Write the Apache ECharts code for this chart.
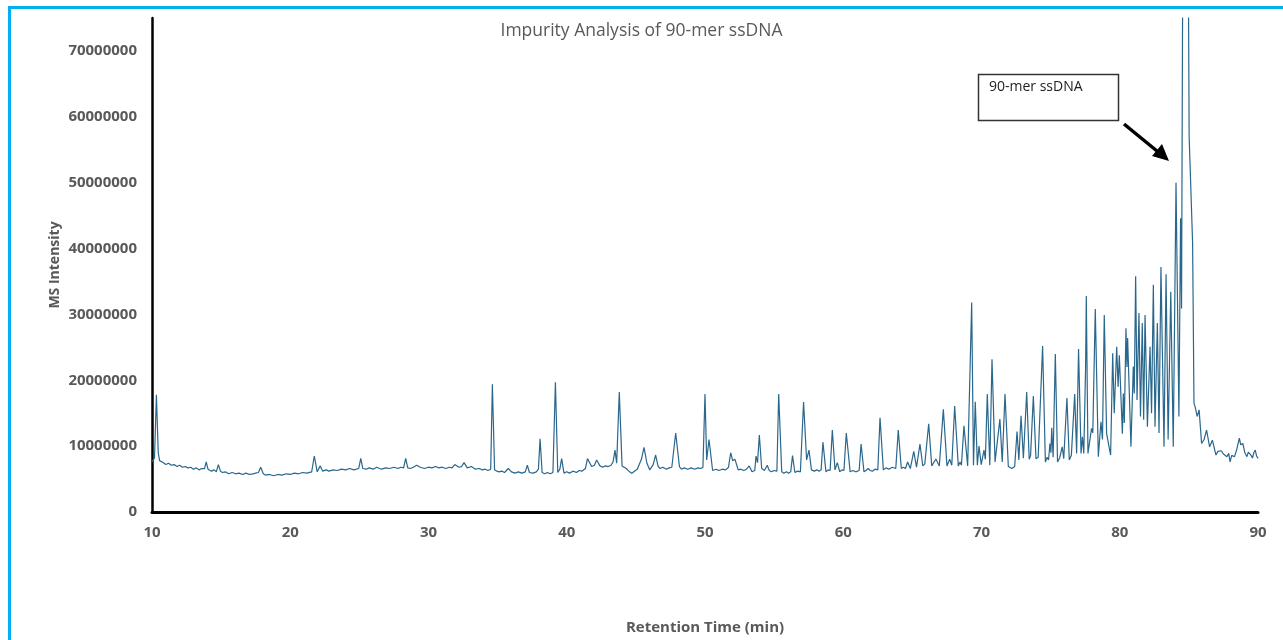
<!DOCTYPE html>
<html>
<head>
<meta charset="utf-8">
<script src="https://cdn.jsdelivr.net/npm/echarts@6/dist/echarts.min.js"></script>
<style>
html,body{margin:0;padding:0;background:#fff;}
#chart{width:1283px;height:640px;}
</style>
</head>
<body>
<div id="chart"></div>
<script>
// Retention time (min), intensity (millions)
const segEarly = [
 [10.0,7.6],[10.05,7.9],[10.18,8.2],[10.32,17.8],[10.45,9.0],[10.55,7.8],[10.8,7.5],[11.0,7.2],[11.2,7.4],[11.4,7.1],[11.6,7.2],[11.8,6.9],[12.0,7.1],
 [12.2,6.8],[12.4,6.9],[12.6,6.7],[12.8,6.8],[13.0,6.5],[13.2,6.7],[13.4,6.4],[13.6,6.6],[13.8,6.6],[13.92,7.6],[14.05,6.5],[14.3,6.2],[14.5,6.4],[14.65,6.1],[14.8,7.2],
 [14.95,6.2],[15.1,6.0],[15.3,6.1],[15.55,5.8],[15.8,6.0],[16.05,5.8],[16.3,5.9],[16.55,5.7],[16.8,5.9],[17.05,5.7],[17.3,5.8],[17.5,5.9],[17.7,6.0],[17.86,6.8],[18.05,5.8],[18.2,5.6],
 [18.5,5.7],[18.8,5.5],[19.1,5.7],[19.4,5.6],[19.7,5.8],[20.0,5.7],[20.3,5.9],[20.6,5.8],[20.9,6.0],[21.2,5.9],[21.55,6.1],[21.74,8.5],[21.95,6.1],[22.17,7.0],[22.35,6.2],
 [22.6,6.4],[22.8,6.2],[23.1,6.4],[23.4,6.3],[23.7,6.5],[24.0,6.4],[24.3,6.6],[24.6,6.4],[24.95,6.6],[25.1,8.15],[25.25,6.6],[25.5,6.5],[25.7,6.7],[26.0,6.5],[26.25,6.8],[26.6,6.5],
 [26.9,6.7],[27.2,6.6],[27.5,6.8],[27.8,6.6],[28.0,6.8],[28.2,6.7],[28.35,8.15],[28.5,6.7],[28.7,6.6],[28.9,6.8],[29.15,7.1],[29.4,6.8],[29.7,6.6],[30.0,6.8],[30.25,6.7],[30.5,6.9]
];
const segMid = [
 [30.75,6.7],[31.0,6.8],[31.25,6.6],[31.5,6.8],[31.7,6.7],[31.9,7.2],[32.2,6.8],[32.4,6.9],[32.57,7.5],[32.8,6.7],[33.1,6.9],[33.4,6.5],[33.65,6.6],[33.9,6.4],[34.1,6.5],[34.3,6.3],
 [34.5,6.5],[34.62,19.4],[34.78,6.4],[34.95,6.2],[35.1,6.1],[35.3,6.2],[35.5,6.0],[35.77,6.6],[36.0,6.1],[36.25,5.9],[36.5,6.1],[36.75,5.9],[37.0,6.1],[37.15,7.1],
 [37.3,6.0],[37.55,5.9],[37.8,6.1],[37.95,6.5],[38.07,11.1],[38.22,6.0],[38.4,5.8],[38.6,6.0],[38.8,5.8],[39.0,6.0],[39.18,19.7],[39.35,6.0],[39.5,6.5],
 [39.63,8.1],[39.8,5.9],[40.0,6.1],[40.2,5.9],[40.45,6.2],[40.7,6.0],[40.9,6.3],[41.1,6.2],[41.35,6.6],[41.5,8.1],[41.8,6.9],[42.0,7.1],[42.16,7.9],[42.4,7.0],
 [42.6,6.8],[42.8,7.0],[43.0,6.9],[43.2,7.1],[43.35,7.6],[43.49,9.4],[43.61,7.4],[43.8,18.2],[44.0,7.0],[44.15,6.8],[44.3,6.6],[44.5,6.2],[44.7,5.9],[44.9,6.2],[45.1,6.5],
 [45.4,8.0],[45.59,9.8],[45.8,7.4],[46.0,6.4],[46.25,7.2],[46.43,8.65],[46.6,7.0],[46.74,6.6],[46.95,6.8],[47.2,6.5],[47.4,6.7],[47.6,6.8],[47.88,12.0],
 [48.15,6.9],[48.3,6.5],[48.5,6.7],[48.75,6.5],[49.0,6.7],[49.25,6.5],[49.5,6.7],[49.7,6.6],[49.85,6.8],[50.0,17.9],[50.12,7.9],[50.29,11.0],[50.55,6.3],[50.8,6.5],[51.0,6.3],
 [51.25,6.5],[51.5,6.4]
];
const segLate = [
 [51.7,6.8],[51.86,9.0],[52.0,7.8],[52.17,8.0],[52.4,6.4],[52.6,6.5],[52.8,6.3],[53.0,6.5],[53.2,7.0],[53.4,6.1],[53.6,6.3],[53.69,8.5],
 [53.8,7.5],[53.93,11.7],[54.1,6.6],[54.3,6.3],[54.5,7.1],[54.65,6.3],[54.8,6.1],[55.0,6.3],[55.2,6.2],[55.33,17.9],[55.55,6.1],[55.7,5.9],[55.9,6.1],[56.05,5.9],[56.2,6.1],
 [56.33,8.55],[56.5,6.0],[56.7,6.2],[56.9,6.1],[57.13,16.7],[57.35,7.9],[57.52,9.4],[57.7,6.4],[57.9,6.2],[58.1,6.4],[58.25,6.2],[58.4,6.4],[58.53,10.6],
 [58.75,6.1],[58.9,6.4],[59.05,6.3],[59.21,12.45],[59.4,6.4],[59.57,7.5],[59.75,6.1],[59.9,6.4],[60.05,6.3],[60.22,12.0],[60.5,6.1],[60.7,6.3],[60.9,6.1],
 [61.15,6.3],[61.29,10.3],[61.5,6.1],[61.65,6.3],[61.8,6.6],[61.95,6.3],[62.1,6.2],[62.3,6.5],[62.5,6.4],[62.66,14.3],[62.9,6.4],[63.1,6.7],[63.3,6.5],[63.55,6.8],[63.8,6.6],
 [63.98,12.45],[64.2,6.6],[64.35,6.8],[64.5,6.6],[64.66,7.6],[64.85,6.6],[65.1,9.2],[65.3,6.8],[65.55,10.3],[65.75,7.0],[65.9,7.3],
 [66.18,13.4],[66.4,7.0],[66.7,8.05],[66.95,7.0],[67.24,15.6],[67.5,7.0],[67.7,8.0],[67.85,7.1],[68.06,16.1],[68.32,7.0],
 [68.45,7.6],[68.55,7.1],[68.73,13.1],[69.0,7.0]
];
const segDense = [
 [69.29,31.8],[69.42,7.1],[69.55,16.75],[69.7,7.1],[69.82,10.0],[69.98,7.2],[70.18,9.4],[70.28,8.0],[70.42,17.9],[70.6,7.1],
 [70.76,23.2],[70.98,7.6],[71.33,14.1],[71.5,7.6],[71.7,17.9],[71.94,6.9],[72.05,7.2],[72.2,6.6],[72.4,6.9],[72.57,12.2],[72.7,7.9],
 [72.86,14.6],[73.03,8.15],[73.27,18.2],[73.45,8.0],[73.55,8.6],[73.75,17.6],[73.94,8.1],[74.1,8.3],[74.2,8.0],[74.42,25.2],
 [74.62,7.6],[74.75,8.3],[74.85,7.9],[74.95,10.4],[75.02,9.0],[75.08,12.8],[75.18,8.3],[75.34,24.0],[75.5,7.6],[75.65,8.2],[75.84,9.9],
 [75.95,8.1],[76.18,17.3],[76.35,7.9],[76.5,8.6],[76.6,8.3],[76.74,17.9],[76.88,8.9],[77.02,24.75],[77.2,8.9],[77.3,11.4],
 [77.4,8.9],[77.53,22.0],[77.58,32.8],[77.7,8.9],[77.96,12.7],[78.05,12.0],[78.23,30.8],[78.45,8.4]
];
const segMain = [
 [78.64,13.7],[78.75,11.0],[78.88,29.9],[79.05,11.9],[79.34,8.65],[79.49,24.1],[79.6,15.0],[79.78,25.1],[79.88,19.0],[79.97,23.8],
 [80.19,11.9],[80.26,18.0],[80.33,13.5],[80.45,27.9],[80.52,22.0],[80.57,26.4],[80.81,9.9],[80.98,22.1],[81.05,18.0],[81.15,35.8],
 [81.25,17.0],[81.39,30.2],[81.5,14.5],[81.63,28.7],[81.73,14.0],[81.83,29.9],[82.0,12.95],[82.19,25.1],[82.3,15.0],[82.43,34.5],
 [82.55,12.95],[82.72,28.7],[82.84,12.0],[82.98,37.2],[83.2,9.9],[83.35,36.1],[83.5,11.0],[83.69,33.45],[83.87,9.9],[84.07,50.0],
 [84.28,14.5],[84.4,44.6],[84.47,30.9],[84.6,110],[84.75,130],[84.9,110],[85.02,57.0],[85.27,40.8],[85.37,16.5],[85.45,16.0],
 [85.6,14.5],[85.74,15.5],[85.92,10.4],[86.1,11.0],[86.28,12.45],[86.5,9.9],[86.7,10.9],[86.96,8.65],[87.1,9.2],[87.2,8.9],[87.35,9.3],[87.5,8.8],
 [87.62,9.1],[87.75,8.4],[87.88,8.9],[87.98,7.6],[88.1,8.6],[88.3,8.4],[88.45,9.4],[88.65,11.2],[88.75,10.2],[88.85,9.9],[88.9,10.4],[89.05,9.0],[89.2,8.4],[89.3,9.1],[89.4,9.4],[89.5,8.6],[89.6,8.2],[89.7,9.0],[89.8,9.4],[89.9,8.5],[90.0,8.15]
];
const xTicks = [10,20,30,40,50,60,70,80,90];
const yTicks = [0,10000000,20000000,30000000,40000000,50000000,60000000,70000000];
const UNIT = 1000000;

const series = [].concat(segEarly, segMid, segLate, segDense, segMain).map(p => [p[0], p[1]*UNIT]);

const chart = echarts.init(document.getElementById('chart'));
const gray = '#595959';
const FONT = 'Open Sans';
chart.setOption({
  animation:false,
  backgroundColor:'#ffffff',
  title:{
    text:'Impurity Analysis of 90-mer ssDNA',
    left:'center', top:17,
    textStyle:{fontFamily:FONT, fontSize:17.5, fontWeight:'normal', color:gray}
  },
  grid:{left:152, right:25, top:18, bottom:128, containLabel:false, outerBoundsMode:'none'},
  xAxis:{
    type:'value', min:xTicks[0], max:xTicks[xTicks.length-1], interval:10,
    name:'Retention Time (min)', nameLocation:'middle', nameGap:108, nameMoveOverlap:false,
    nameTextStyle:{fontFamily:FONT, fontSize:15, fontWeight:'bold', color:gray},
    axisLine:{show:true, onZero:false, lineStyle:{color:'#000', width:3}},
    axisTick:{show:false},
    splitLine:{show:false},
    axisLabel:{margin:13, fontFamily:FONT, fontSize:15, fontWeight:'bold', color:gray}
  },
  yAxis:{
    type:'value', min:0, max:75000000, interval:10000000,
    name:'MS Intensity', nameLocation:'middle', nameGap:90, nameRotate:90, nameMoveOverlap:false,
    nameTextStyle:{fontFamily:FONT, fontSize:14, fontWeight:'bold', color:gray},
    axisLine:{show:true, lineStyle:{color:'#000', width:2.5}},
    axisTick:{show:false},
    splitLine:{show:false},
    axisLabel:{margin:15, showMaxLabel:false, fontFamily:FONT, fontSize:15, fontWeight:'bold', color:gray,
      formatter: v => (yTicks.indexOf(v) >= 0 ? String(v) : '')}
  },
  series:[{
    type:'line', data:series, showSymbol:false, symbol:'none', clip:true,
    lineStyle:{color:'#2a678c', width:1.2}
  }],
  graphic:[
    {type:'polyline', silent:true, shape:{points:[[9.5,640],[9.5,7.5],[1283,7.5]]}, style:{stroke:'#00b0f0', lineWidth:3, fill:null}},
    {type:'rect', shape:{x:978.5, y:74.5, width:140, height:46}, style:{fill:'#fff', stroke:'#333', lineWidth:1.5}},
    {type:'text', left:989, top:80, style:{text:'90-mer ssDNA', fontFamily:FONT, fontSize:14, fill:'#222'}},
    {type:'line', shape:{x1:1124, y1:124, x2:1160, y2:153.5}, style:{stroke:'#000', lineWidth:3.5}},
    {type:'polygon', shape:{points:[[1169,161],[1152,156],[1162,144]]}, style:{fill:'#000'}}
  ]
});
</script>
</body>
</html>
